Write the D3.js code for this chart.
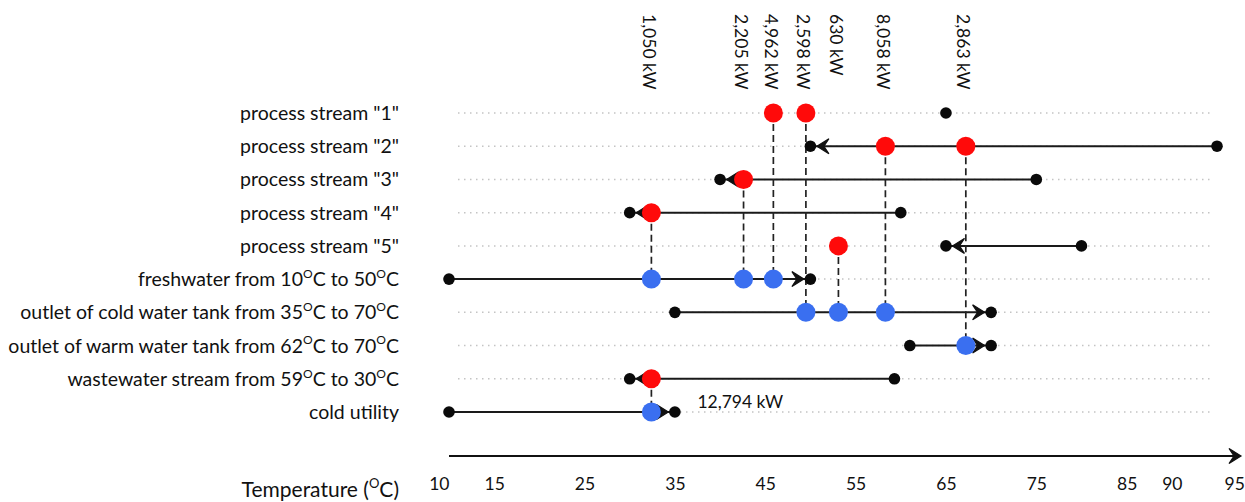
<!DOCTYPE html>
<html>
<head>
<meta charset="utf-8">
<script src="https://cdn.jsdelivr.net/npm/d3@7"></script>
<style>
  html, body { margin: 0; padding: 0; background: #fff; }
  svg text { font-family: Lato, "Open Sans", sans-serif; fill: #111; }
</style>
</head>
<body>
<svg id="chart" width="1245" height="502"></svg>
<script>
// ---------- DATA ----------
const categories = [
  'process stream "1"',
  'process stream "2"',
  'process stream "3"',
  'process stream "4"',
  'process stream "5"',
  'freshwater from 10^OC to 50^OC',
  'outlet of cold water tank from 35^OC to 70^OC',
  'outlet of warm water tank from 62^OC to 70^OC',
  'wastewater stream from 59^OC to 30^OC',
  'cold utility'
];
// stream start / end temperatures (°C); arrow points to the end
const streamStart = [65, 95, 75, 60, 80, 10, 35, 61, 59.3, 10];
const streamEnd   = [65, 50, 40, 30, 65, 50, 70, 70, 30, 35];
// heat exchange matches
const matchTemp   = [32.4, 42.6, 45.9, 49.5, 53.1, 58.3, 67.2, 32.4];
const matchHot    = [3, 2, 0, 0, 4, 1, 1, 8];
const matchCold   = [5, 5, 5, 6, 6, 6, 7, 9];
const matchLoad   = ["1,050 kW", "2,205 kW", "4,962 kW", "2,598 kW", "630 kW", "8,058 kW", "2,863 kW", "12,794 kW"];
const tickValues  = [10, 15, 25, 35, 45, 55, 65, 75, 85, 90, 95];
const axisTitle   = "Temperature (^OC)";

// ---------- SCALES ----------
const svg = d3.select("#chart");
const x = d3.scaleLinear().domain([10, 95]).range([449, 1217]);
const y = d3.scalePoint().domain(d3.range(categories.length)).range([113, 412]);

const RED = "#ff0a0a", BLUE = "#3a6ff0";

// helper for superscript "O"
function richText(sel, str, size) {
  const parts = str.split("^O");
  parts.forEach((p, i) => {
    if (i > 0) {
      sel.append("tspan").attr("dy", -size * 0.42).attr("font-size", size * 0.62).text("O");
      sel.append("tspan").attr("dy", size * 0.42).text(p);
    } else {
      sel.append("tspan").text(p);
    }
  });
}

// arrow head path (pointing right, tip at 0,0)
const arrowPath = "M0,0 L-12,-7.5 L-7,0 L-12,7.5 Z";

// ---------- GRID ----------
svg.append("g").selectAll("line").data(categories).join("line")
  .attr("x1", 458).attr("x2", 1210)
  .attr("y1", (d, i) => y(i)).attr("y2", (d, i) => y(i))
  .attr("stroke", "#c4c4c4").attr("stroke-width", 1.5)
  .attr("stroke-dasharray", "1.5,4.5");

// ---------- CATEGORY LABELS ----------
const LF = 19.5;
svg.append("g").selectAll("text").data(categories).join("text")
  .attr("x", 399).attr("y", (d, i) => y(i) + 7)
  .attr("text-anchor", "end").attr("font-size", LF)
  .each(function(d) { richText(d3.select(this), d, LF); });

// ---------- STREAM LINES ----------
const streams = categories.map((c, i) => ({ i, s: streamStart[i], e: streamEnd[i] }));
svg.append("g").selectAll("line").data(streams.filter(d => d.s !== d.e)).join("line")
  .attr("x1", d => x(d.s)).attr("x2", d => x(d.e))
  .attr("y1", d => y(d.i)).attr("y2", d => y(d.i))
  .attr("stroke", "#1a1a1a").attr("stroke-width", 2);

// ---------- MATCH DASHED LINES ----------
const matches = matchTemp.map((t, k) => ({ t, h: matchHot[k], c: matchCold[k], load: matchLoad[k], k }));
svg.append("g").selectAll("line").data(matches).join("line")
  .attr("x1", d => x(d.t)).attr("x2", d => x(d.t))
  .attr("y1", d => y(d.h)).attr("y2", d => y(d.c))
  .attr("stroke", "#222").attr("stroke-width", 1.7)
  .attr("stroke-dasharray", "7,4");

// ---------- ARROWS ----------
svg.append("g").selectAll("path").data(streams.filter(d => d.s !== d.e)).join("path")
  .attr("d", arrowPath)
  .attr("fill", "#111").attr("stroke", "#111").attr("stroke-width", 1.2)
  .attr("stroke-linejoin", "miter")
  .attr("transform", d => {
    const dir = d.e > d.s ? 1 : -1;
    return `translate(${x(d.e) - dir * 6.5},${y(d.i)}) rotate(${dir > 0 ? 0 : 180})`;
  });

// ---------- END DOTS ----------
const ends = [];
streams.forEach(d => { ends.push({ i: d.i, t: d.s }); if (d.s !== d.e) ends.push({ i: d.i, t: d.e }); });
svg.append("g").selectAll("circle").data(ends).join("circle")
  .attr("cx", d => x(d.t)).attr("cy", d => y(d.i)).attr("r", 5.8)
  .attr("fill", "#0a0a0a");

// ---------- MATCH CIRCLES ----------
svg.append("g").selectAll("circle.hot").data(matches).join("circle")
  .attr("class", "hot")
  .attr("cx", d => x(d.t)).attr("cy", d => y(d.h)).attr("r", 9.5)
  .attr("fill", RED);
svg.append("g").selectAll("circle.cold").data(matches).join("circle")
  .attr("class", "cold")
  .attr("cx", d => x(d.t)).attr("cy", d => y(d.c)).attr("r", 9.5)
  .attr("fill", BLUE);

// ---------- LOAD LABELS ----------
const TF = 17.5;
svg.append("g").selectAll("text").data(matches.slice(0, 7)).join("text")
  .attr("transform", d => `translate(${x(d.t) - 2},14) rotate(90)`)
  .attr("dominant-baseline", "central")
  .attr("font-size", TF)
  .text(d => d.load);
const last = matches[7];
svg.append("text")
  .attr("x", x(last.t) + 46).attr("y", y(last.c) - 4)
  .attr("font-size", TF)
  .text(last.load);

// ---------- X AXIS ----------
const axisY = 456;
svg.append("line").attr("x1", x(10)).attr("x2", 1236)
  .attr("y1", axisY).attr("y2", axisY)
  .attr("stroke", "#111").attr("stroke-width", 2);
svg.append("path").attr("d", arrowPath).attr("fill", "#111")
  .attr("stroke", "#111").attr("stroke-width", 1.2)
  .attr("transform", `translate(1241,${axisY})`);

const axis = d3.axisBottom(x).tickValues(tickValues).tickSize(0).tickPadding(0)
  .tickFormat(d3.format("d"));
const gAxis = svg.append("g").attr("transform", "translate(0,478)").call(axis);
gAxis.select(".domain").remove();
gAxis.selectAll("text")
  .attr("font-size", 17.5).attr("font-family", "Lato, sans-serif").attr("fill", "#111")
  .attr("text-anchor", d => d === 10 ? "end" : d === 95 ? "start" : "middle")
  .attr("dx", d => d === 95 ? 7 : 0);

svg.append("text").attr("x", 399).attr("y", 497)
  .attr("text-anchor", "end").attr("font-size", 21)
  .each(function() { richText(d3.select(this), axisTitle, 21); });
</script>
</body>
</html>
